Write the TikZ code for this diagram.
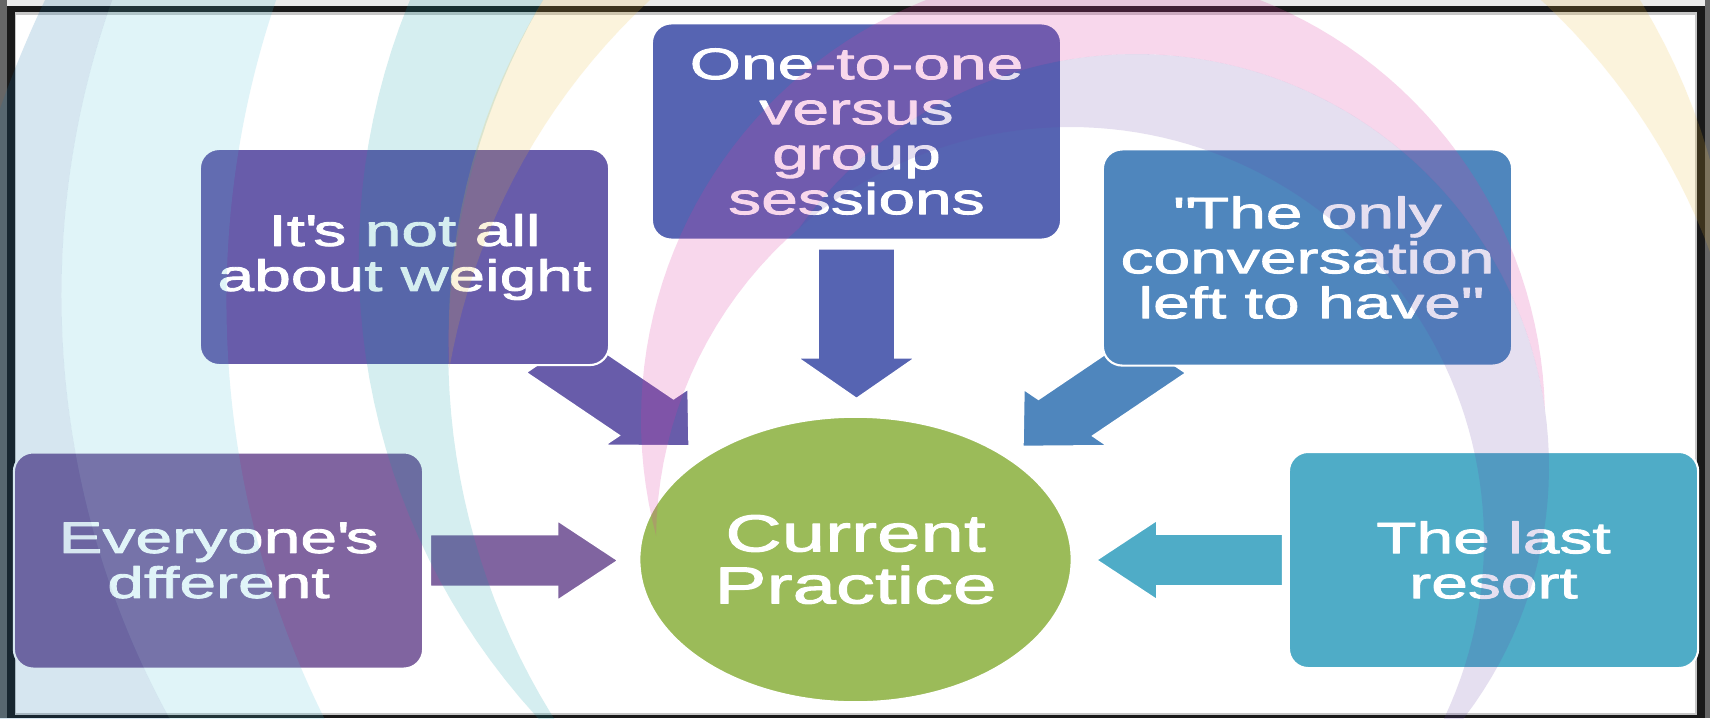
\documentclass[tikz,border=0pt]{standalone}
\usepackage{fontspec}
\setmainfont{Liberation Sans}[FakeStretch=1.5,FakeBold=2]
\usepackage{tikz}
\usetikzlibrary{shapes.geometric}
\usetikzlibrary{calc}
\definecolor{cgroup}{RGB}{86,100,178}
\definecolor{cweight}{RGB}{104,92,170}
\definecolor{conly}{RGB}{79,134,189}
\definecolor{cdiff}{RGB}{128,100,160}
\definecolor{cresort}{RGB}{79,172,199}
\definecolor{ccp}{RGB}{155,187,89}
\definecolor{rdark}{RGB}{14,108,167}
\definecolor{rcyan}{RGB}{73,190,214}
\definecolor{rteal}{RGB}{8,155,167}
\definecolor{ryellow}{RGB}{237,184,49}
\definecolor{rpink}{RGB}{220,55,160}
\definecolor{rlav}{RGB}{102,67,167}
\pgfdeclarelayer{bg}
\pgfdeclarelayer{under}
\pgfsetlayers{bg,under,main}
\tikzset{itembox/.style={rectangle,rounded corners=5.5pt,minimum width=4.09cm,minimum height=2.16cm,inner sep=2pt,align=center,text=white,draw=white,line width=0.6pt,font=\fontsize{12.5}{12.8}\selectfont}}
\tikzset{halo/.style={fill opacity=0.17}}
\newcommand{\blockarrow}[4]{%
  \begin{scope}[shift={(#2)},xscale=1.48,rotate=#3]
    \fill[#1,draw=white,line width=0.5pt] (0,-26) -- ({#4-41},-26) -- ({#4-41},-40) -- (#4,0) -- ({#4-41},40) -- ({#4-41},26) -- (0,26) -- cycle;
  \end{scope}}

\begin{document}
\begin{tikzpicture}[line cap=round,line join=round,x=0.01cm,y=-0.01cm]
  \useasboundingbox (0,0) rectangle (1710,718);
  \begin{pgfonlayer}{bg}
    \fill[black!60] (0,0) rectangle (1710,718);
    \fill[black!8] (7,0) rectangle (1705,6);
    \fill[black!90] (7,6) rectangle (1705,718);
    \fill[black!22] (15,12) rectangle (1697,715);
    \fill[white] (16,15) rectangle (1695,713);
  \end{pgfonlayer}

  \node[itembox,fill=cgroup] (group) at (856.5,131.5) {One-to-one\\versus\\group\\sessions};
  \node[itembox,fill=cweight] (weight) at (404.5,257) {It\textquotesingle s not all\\about weight};
  \node[itembox,fill=conly] (only) at (1307.5,257.5) {\textquotedbl The only\\conversation\\left to have\textquotedbl};
  \node[itembox,fill=cdiff] (diff) at (218.5,560.5) {Everyone\textquotesingle s\\dfferent};
  \node[itembox,fill=cresort] (resort) at (1493.5,560) {The last\\resort};
  \node[ellipse,fill=ccp,draw=white,line width=0.5pt,minimum width=4.25cm,minimum height=2.85cm,text=white,align=center,font=\fontsize{14.8}{14.8}\selectfont] (cp) at (855.5,559.5) {Current\\Practice};

  \begin{pgfonlayer}{under}
    \coordinate (tw) at ($(diff.east)+(6,0)$);
    \coordinate (te) at ($(resort.west)+(-5,0)$);
    \coordinate (tn) at ($(group.south)+(0,8)$);
    \coordinate (tnw) at ($(weight.south east)+(-57,-12)$);
    \coordinate (tne) at ($(only.south west)+(57,-12)$);
    \blockarrow{cdiff}{tw}{0}{127}
    \blockarrow{cresort}{te}{180}{126}
    \blockarrow{cgroup}{tn}{-90}{150}
    \blockarrow{cweight}{tnw}{-45}{130}
    \blockarrow{conly}{tne}{-135}{130}
  \end{pgfonlayer}

  \begin{scope}
    \clip (0,0) rectangle (1710,718);
    \fill[halo,fill=rdark,even odd rule] (1100,500) circle[radius=11.665cm] (942.7,295.4) circle[radius=8.807cm];
    \fill[halo,fill=rcyan,even odd rule] (942.7,295.4) circle[radius=8.807cm] (1161,301.5) circle[radius=9.34cm];
    \fill[halo,fill=rteal] plot[domain=131.63:310.42,samples=90] ({1037.2+678.5*cos(\x)},{258.7+678.5*sin(\x)}) -- plot[domain=298.83:143.22,samples=90] ({1142.3+694.1*cos(\x)},{350.2+694.1*sin(\x)}) -- cycle;
    \fill[halo,fill=ryellow] plot[domain=177.07:359.8,samples=90] ({1091.5+642.9*cos(\x)},{335.4+642.9*sin(\x)}) -- plot[domain=346.92:189.94,samples=90] ({1095.5+656*cos(\x)},{481.5+656*sin(\x)}) -- cycle;
    \fill[halo,fill=rpink,fill opacity=0.2] plot[domain=165.1:358.6,samples=90] ({1093+452*cos(\x)},{420+452*sin(\x)}) -- plot[domain=351.9:215.4,samples=70] ({1136+413*cos(\x)},{467+413*sin(\x)}) -- plot[domain=229.2:180.7,samples=20] ({1070+414*cos(\x)},{541+414*sin(\x)}) -- cycle;
    \fill[halo,fill=rlav] plot[domain=215.4:408,samples=90] ({1136+413*cos(\x)},{467+413*sin(\x)}) -- plot[domain=394.3:229.2,samples=90] ({1070+414*cos(\x)},{541+414*sin(\x)}) -- cycle;
  \end{scope}
\end{tikzpicture}
\end{document}
